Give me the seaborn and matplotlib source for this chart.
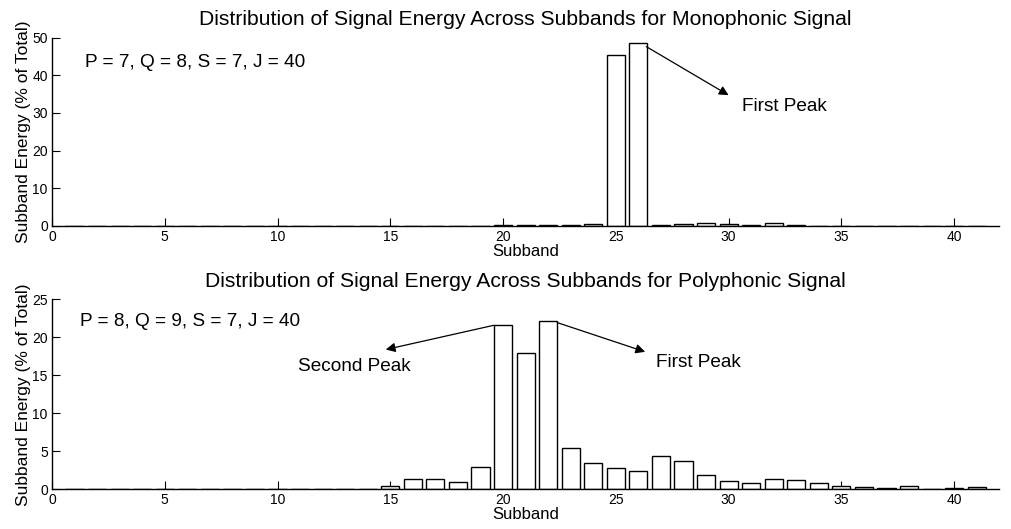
import numpy as np
import pandas as pd
import matplotlib
matplotlib.use("Agg")
import matplotlib.pyplot as plt
import seaborn as sns

subbands = list(range(1, 42))
mono_energy = [0.02] * 18 + [0.05, 0.12, 0.2, 0.3, 0.3, 0.6, 45.5, 48.6, 0.2, 0.45,
                             0.8, 0.6, 0.3, 0.8, 0.3, 0.05, 0.05, 0.05, 0.05, 0.05,
                             0.05, 0.05, 0.05]
poly_energy = [0.02] * 12 + [0.03, 0.1, 0.47, 1.3, 1.3, 0.96, 3.0, 21.6, 17.9, 22.1,
                             5.5, 3.5, 2.76, 2.4, 4.4, 3.7, 1.9, 1.1, 0.83, 1.4, 1.2,
                             0.83, 0.43, 0.26, 0.22, 0.5, 0.1, 0.12, 0.3]
xticks = [0, 5, 10, 15, 20, 25, 30, 35, 40]
mono_yticks = [0, 10, 20, 30, 40, 50]
poly_yticks = [0, 5, 10, 15, 20, 25]
titles = ["Distribution of Signal Energy Across Subbands for Monophonic Signal",
          "Distribution of Signal Energy Across Subbands for Polyphonic Signal"]
params = ["P = 7, Q = 8, S = 7, J = 40", "P = 8, Q = 9, S = 7, J = 40"]

sns.set_style("ticks")
plt.rcParams['font.family'] = ['Liberation Sans', 'DejaVu Sans']
plt.rcParams['text.color'] = 'black'
plt.rcParams['axes.labelcolor'] = 'black'

fig = plt.figure(figsize=(10.11, 5.29), dpi=100)
ax1 = fig.add_axes([0.0514, 0.573, 0.937, 0.356])
ax2 = fig.add_axes([0.0514, 0.075, 0.937, 0.359])

df1 = pd.DataFrame({"Subband": subbands, "Energy": mono_energy})
df2 = pd.DataFrame({"Subband": subbands, "Energy": poly_energy})

for ax, df, yt, title in [(ax1, df1, mono_yticks, titles[0]), (ax2, df2, poly_yticks, titles[1])]:
    sns.barplot(data=df, x="Subband", y="Energy", native_scale=True, width=0.8,
                color="white", edgecolor="black", linewidth=1.0, errorbar=None,
                saturation=1, ax=ax)
    ax.set_xlim(0, 42)
    ax.set_ylim(yt[0], yt[-1])
    ax.set_xticks(xticks)
    ax.set_xticklabels([str(t) for t in xticks])
    ax.set_yticks(yt)
    ax.set_yticklabels([str(t) for t in yt])
    ax.tick_params(direction="in", length=6, width=0.8, labelsize=10, pad=3,
                   colors="black")
    for s in ["top", "right"]:
        ax.spines[s].set_visible(False)
    for s in ["left", "bottom"]:
        ax.spines[s].set_linewidth(1.0)
        ax.spines[s].set_color("black")
    ax.set_xlabel("Subband", fontsize=12, labelpad=0, color="black")
    ax.set_ylabel("Subband Energy (% of Total)", fontsize=12.5, labelpad=1, color="black")
    ax.set_title(title, fontsize=15.2, pad=9, color="black")
    ax.set_facecolor("white")

fs = 13.7
ax1.text(1.45, 43.5, params[0], fontsize=fs, va="center", ha="left")
ax1.annotate("", xy=(30.0, 34.7), xytext=(26.35, 47.6),
             arrowprops=dict(arrowstyle="-|>", color="black", lw=0.9, mutation_scale=14,
                             shrinkA=0, shrinkB=0))
ax1.text(30.6, 31.6, "First Peak", fontsize=fs, va="center", ha="left")

ax2.text(1.23, 22.05, params[1], fontsize=fs, va="center", ha="left")
ax2.annotate("", xy=(14.8, 18.4), xytext=(19.6, 21.6),
             arrowprops=dict(arrowstyle="-|>", color="black", lw=0.9, mutation_scale=14,
                             shrinkA=0, shrinkB=0))
ax2.text(10.9, 16.2, "Second Peak", fontsize=fs, va="center", ha="left")
ax2.annotate("", xy=(26.3, 18.1), xytext=(22.4, 21.95),
             arrowprops=dict(arrowstyle="-|>", color="black", lw=0.9, mutation_scale=14,
                             shrinkA=0, shrinkB=0))
ax2.text(26.8, 16.65, "First Peak", fontsize=fs, va="center", ha="left")

fig.savefig("out.png", dpi=100, facecolor="white")
